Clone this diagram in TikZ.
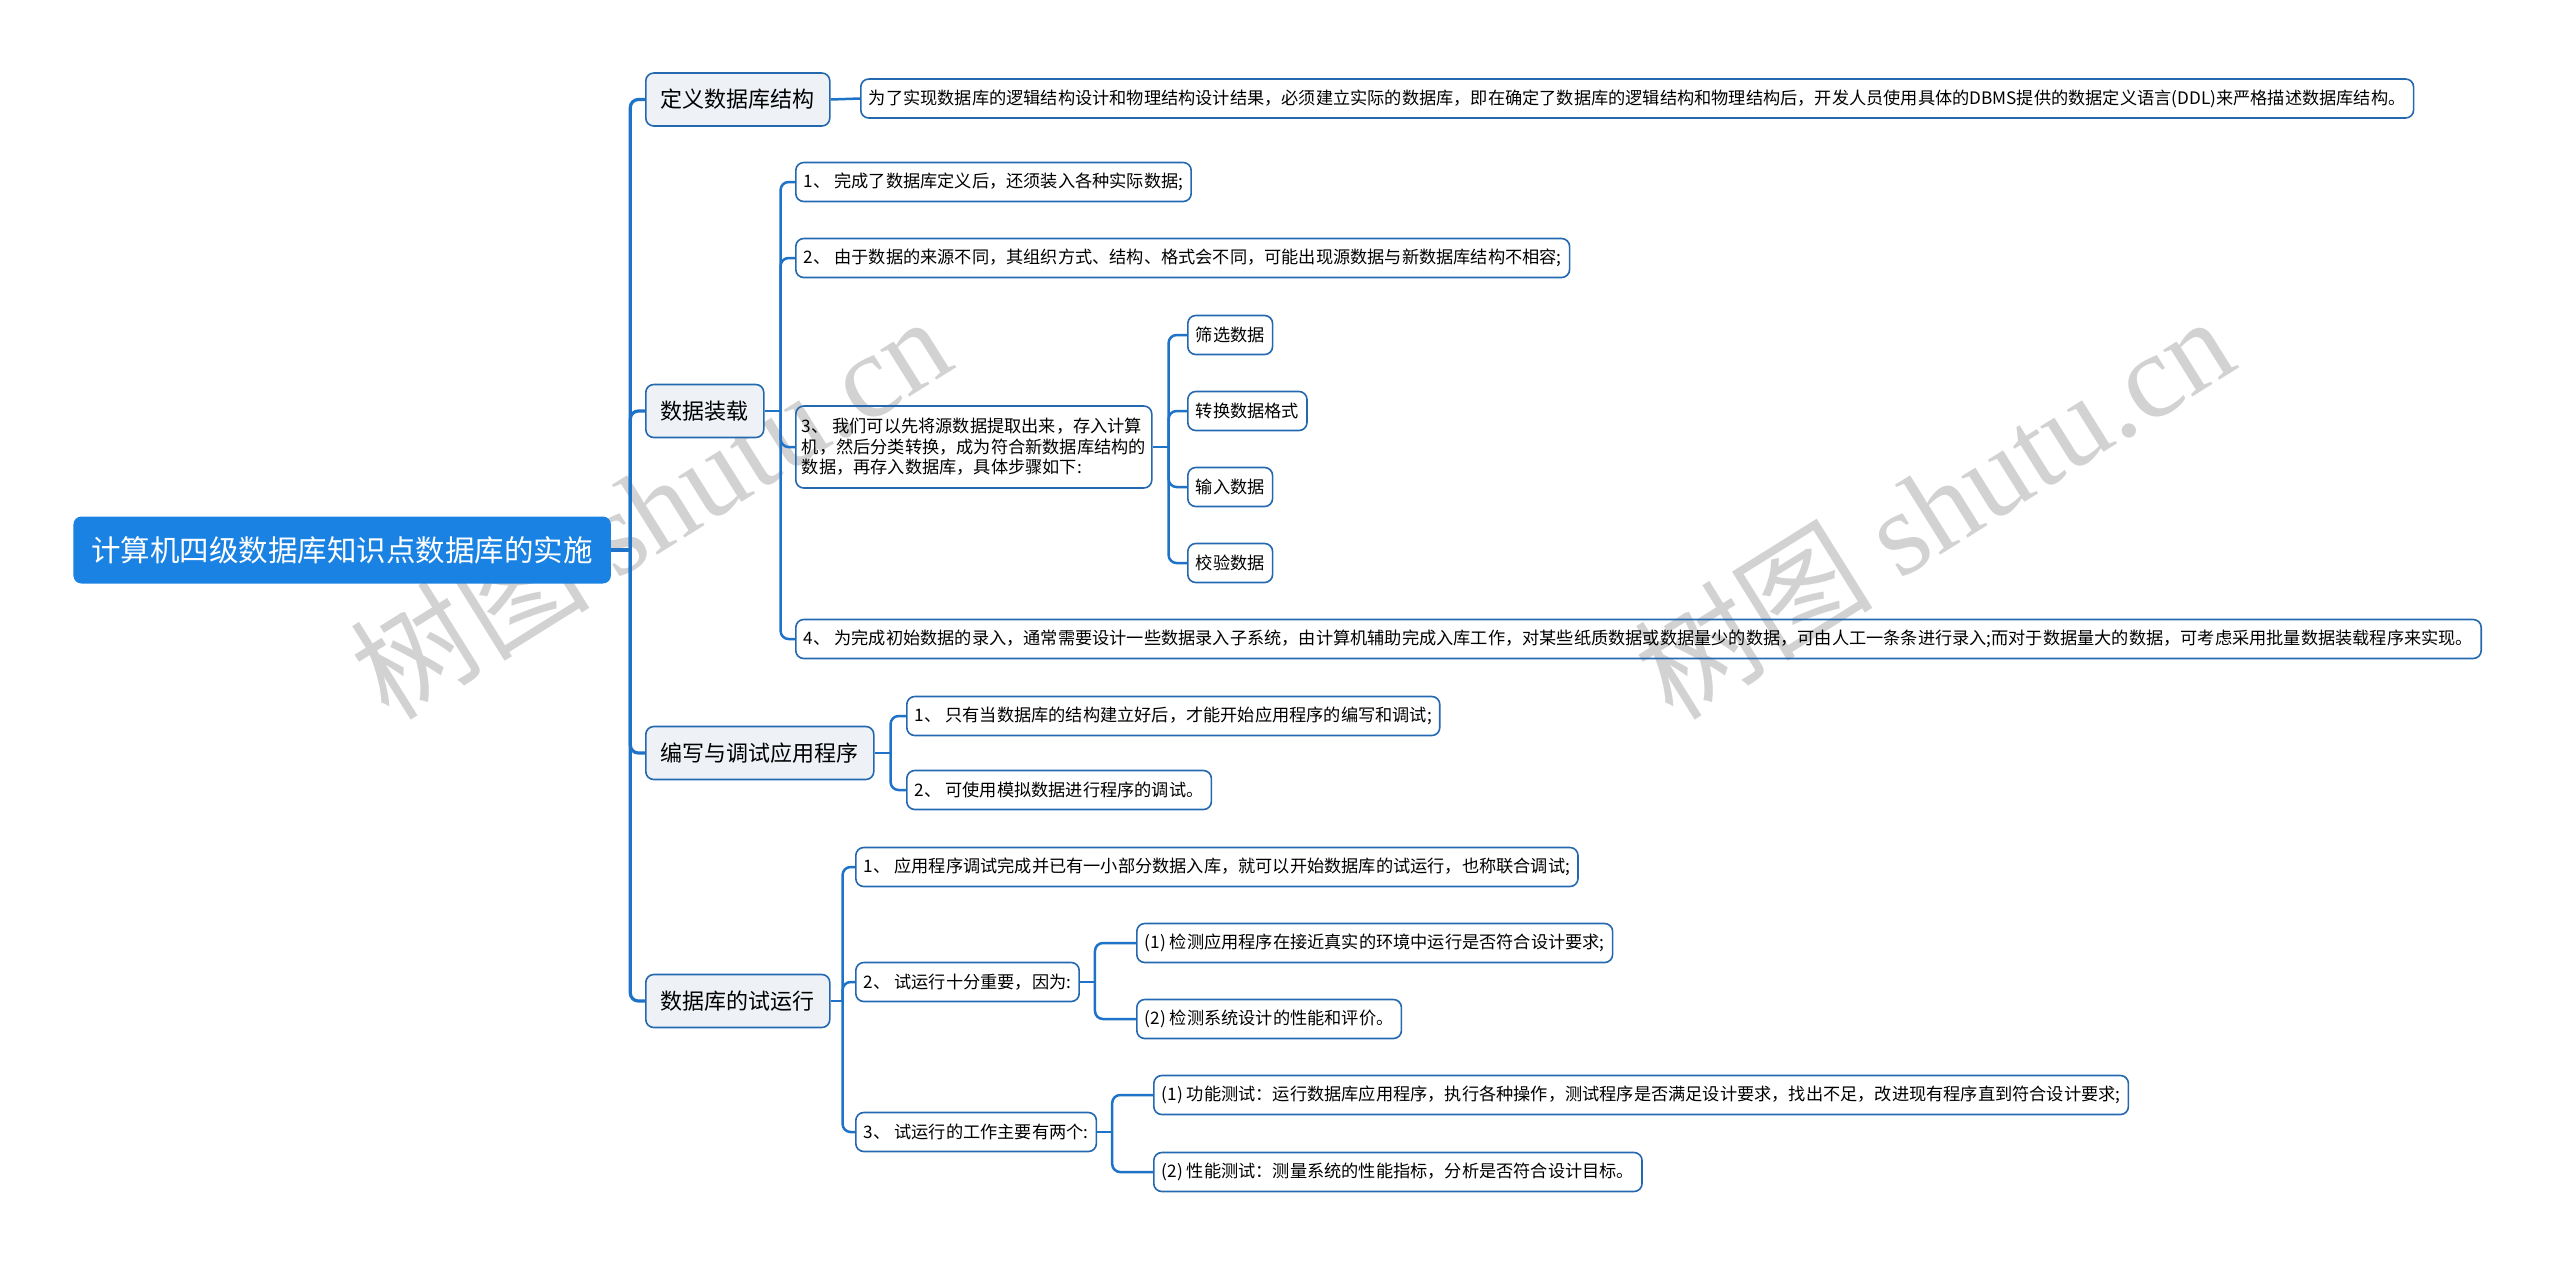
\documentclass[tikz,border=0pt]{standalone}
\usepackage{fontspec}
\setmainfont{Noto Sans CJK SC}
\newfontfamily\wmserif{Liberation Serif}
\usetikzlibrary{calc}
\definecolor{rootblue}{RGB}{26,130,226}
\definecolor{bordercol}{RGB}{36,104,176}
\definecolor{conncol}{RGB}{30,115,200}
\definecolor{lonefill}{RGB}{238,242,247}
\definecolor{wmgray}{RGB}{210,210,210}
\tikzset{
  rootbox/.style={anchor=west, fill=rootblue, text=white, rounded corners=4pt,
    font=\fontsize{14.75}{18}\selectfont, inner xsep=9pt, inner ysep=0pt, minimum height=33.5pt},
  lonebox/.style={anchor=west, fill=lonefill, draw=bordercol, line width=0.8pt, rounded corners=4pt,
    font=\fontsize{11}{13}\selectfont, inner xsep=7.5pt, inner ysep=0pt, minimum height=26.5pt},
  ltwobox/.style={anchor=west, draw=bordercol, line width=0.8pt, rounded corners=4pt,
    font=\fontsize{8.6}{10.2}\selectfont, inner xsep=4pt, inner ysep=0pt, minimum height=19.5pt},
  trunk/.style={draw=conncol, line width=1.6pt, rounded corners=4pt},
  conn/.style={draw=conncol, line width=1.25pt, rounded corners=4pt},
  wm/.style={text=wmgray, font=\fontsize{60}{60}\selectfont, rotate=32}
}
\begin{document}
\begin{tikzpicture}[x=0.5pt, y=-0.5pt]
\useasboundingbox (0,0) rectangle (2560,1265);
% watermarks (behind everything)
\node[wm] (wma) at (650,506) {树图 {\wmserif shutu.cn}};
\node[wm] (wmb) at (1933,506) {树图 {\wmserif shutu.cn}};
% root
\node[rootbox] (root) at (73,550) {计算机四级数据库知识点数据库的实施};
% level 1
\node[lonebox] (la) at (645,99.5) {定义数据库结构};
\node[lonebox] (lb) at (645,411) {数据装载};
\node[lonebox] (lc) at (645,753) {编写与调试应用程序};
\node[lonebox] (ld) at (645,1001) {数据库的试运行};
% la child
\node[ltwobox] (a1) at (860,98.5) {为了实现数据库的逻辑结构设计和物理结构设计结果，必须建立实际的数据库，即在确定了数据库的逻辑结构和物理结构后，开发人员使用具体的DBMS提供的数据定义语言(DDL)来严格描述数据库结构。};
% lb children
\node[ltwobox] (b1) at (795,182) {1、 完成了数据库定义后，还须装入各种实际数据;};
\node[ltwobox] (b2) at (795,258) {2、 由于数据的来源不同，其组织方式、结构、格式会不同，可能出现源数据与新数据库结构不相容;};
\node[ltwobox, align=left, minimum height=41pt, inner xsep=3pt] (b3) at (795,447) {3、 我们可以先将源数据提取出来，存入计算\\机，然后分类转换，成为符合新数据库结构的\\数据，再存入数据库，具体步骤如下:};
\node[ltwobox] (b4) at (795,639) {4、 为完成初始数据的录入，通常需要设计一些数据录入子系统，由计算机辅助完成入库工作，对某些纸质数据或数据量少的数据，可由人工一条条进行录入;而对于数据量大的数据，可考虑采用批量数据装载程序来实现。};
\node[ltwobox] (s1) at (1187,335) {筛选数据};
\node[ltwobox] (s2) at (1187,411) {转换数据格式};
\node[ltwobox] (s3) at (1187,487) {输入数据};
\node[ltwobox] (s4) at (1187,563) {校验数据};
% lc children
\node[ltwobox] (c1) at (906,716) {1、 只有当数据库的结构建立好后，才能开始应用程序的编写和调试;};
\node[ltwobox] (c2) at (906,790) {2、 可使用模拟数据进行程序的调试。};
% ld children
\node[ltwobox] (e1) at (855,867) {1、 应用程序调试完成并已有一小部分数据入库，就可以开始数据库的试运行，也称联合调试;};
\node[ltwobox] (e2) at (855,982) {2、 试运行十分重要，因为:};
\node[ltwobox] (e3) at (855,1132) {3、 试运行的工作主要有两个:};
\node[ltwobox] (f1) at (1136,943) {(1) 检测应用程序在接近真实的环境中运行是否符合设计要求;};
\node[ltwobox] (f2) at (1136,1019) {(2) 检测系统设计的性能和评价。};
\node[ltwobox] (g1) at (1153,1095) {(1) 功能测试：运行数据库应用程序，执行各种操作，测试程序是否满足设计要求，找出不足，改进现有程序直到符合设计要求;};
\node[ltwobox] (g2) at (1153,1172) {(2) 性能测试：测量系统的性能指标，分析是否符合设计目标。};
% junctions
\coordinate (j0) at ([xshift=9.5pt]root.east);
\coordinate (jb) at ([xshift=8pt]lb.east);
\coordinate (jb3) at ([xshift=8pt]b3.east);
\coordinate (jc) at ([xshift=8pt]lc.east);
\coordinate (jd) at ([xshift=6pt]ld.east);
\coordinate (je2) at ([xshift=7.5pt]e2.east);
\coordinate (je3) at ([xshift=7.5pt]e3.east);
% connectors
\draw[trunk] (root.east) -- (j0);
\foreach \c in {la,lb,lc,ld} \draw[trunk] (j0) |- (\c.west);
\draw[conn] (la.east) -- (a1.west);
\draw[conn] (lb.east) -- (jb);
\foreach \c in {b1,b2,b3,b4} \draw[conn] (jb) |- (\c.west);
\draw[conn] (b3.east) -- (jb3);
\foreach \c in {s1,s2,s3,s4} \draw[conn] (jb3) |- (\c.west);
\draw[conn] (lc.east) -- (jc);
\foreach \c in {c1,c2} \draw[conn] (jc) |- (\c.west);
\draw[conn] (ld.east) -- (jd);
\foreach \c in {e1,e2,e3} \draw[conn] (jd) |- (\c.west);
\draw[conn] (e2.east) -- (je2);
\foreach \c in {f1,f2} \draw[conn] (je2) |- (\c.west);
\draw[conn] (e3.east) -- (je3);
\foreach \c in {g1,g2} \draw[conn] (je3) |- (\c.west);
\end{tikzpicture}
\end{document}
